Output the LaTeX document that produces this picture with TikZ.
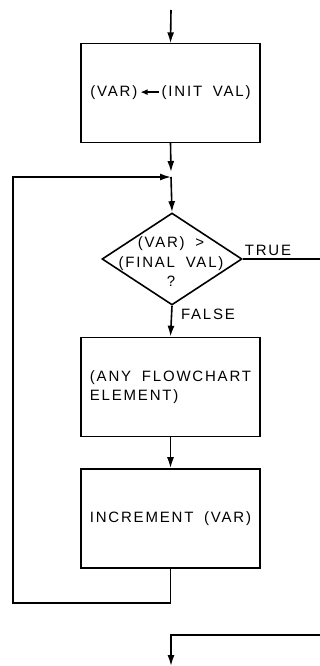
\documentclass[tikz,border=0pt]{standalone}
\usepackage{fontspec}
\setmainfont{Liberation Sans}[LetterSpace=12,WordSpace=1.8]
\usetikzlibrary{shapes.geometric,arrows.meta}
\begin{document}
\begin{tikzpicture}[x=1pt,y=-1pt, line width=1.6pt,
  font=\fontsize{15}{19.5}\selectfont,
  box/.style={draw, minimum width=179pt, minimum height=99pt, inner sep=0pt},
  dec/.style={draw, diamond, minimum width=140pt, minimum height=92pt, inner sep=0pt},
  lbl/.style={inner sep=0pt},
  arr/.style={-{Latex[length=11pt,width=7pt]}}]
\useasboundingbox (0,0) rectangle (320,666);

\node[box] (init) at (170.5,93) {(VAR)\,\tikz[baseline=-0.6ex]\draw[-{Latex[length=7pt,width=6pt]},line width=1.4pt] (1.2em,0) -- (0,0);\,(INIT VAL)};
\node[dec] (test) at (172,259) {};
\node[lbl, align=center] (testtxt) at (171,262) {(VAR) >\\(FINAL VAL)\\?};
\node[lbl] (true) at (268,250) {TRUE};
\node[lbl] (false) at (208,314) {FALSE};
\node[box, align=left] (body) at (170.5,387) {(ANY FLOWCHART\\ELEMENT)};
\node[box] (incr) at (170.5,518.5) {INCREMENT (VAR)};

\coordinate (start) at (171,10);
\coordinate (join) at (171,177);
\coordinate (trueend) at (320,259);
\coordinate (loopa) at (13,603);
\coordinate (exitin) at (320,635);
\coordinate (exitout) at (171,666);

\draw[arr] (start) -- (init.north);
\draw[arr] (init.south) -- ([yshift=5pt]join);
\draw[arr] (join) -- (test.north);
\draw (test.east) -- (trueend);
\draw[arr] (test.south) -- (body.north);
\draw[arr] (body.south) -- (incr.north);
\draw[arr] (incr.south) |- (loopa) |- (join);
\draw[arr] (exitin) -| (exitout);
\end{tikzpicture}
\end{document}
